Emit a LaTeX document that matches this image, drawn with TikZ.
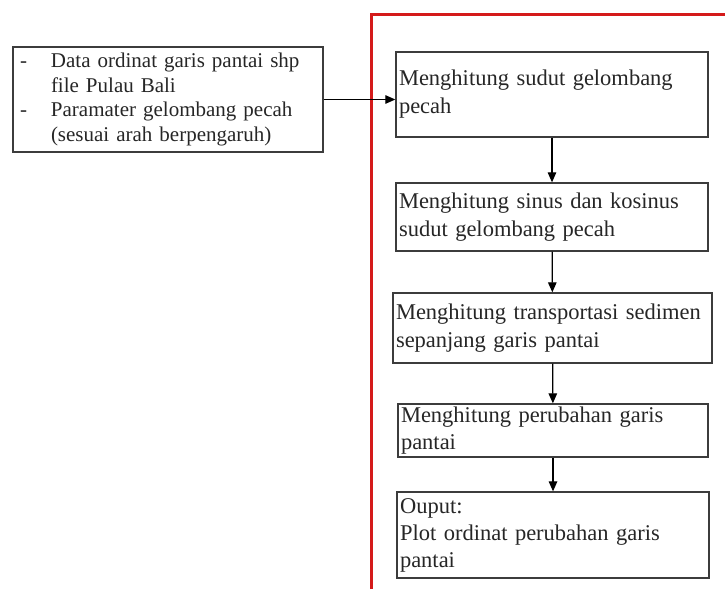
\documentclass[tikz,border=0pt]{standalone}
\usepackage{fontspec}
\setmainfont{Liberation Serif}
\usetikzlibrary{arrows.meta}
\definecolor{frame}{HTML}{D41A1A}
\definecolor{edge}{HTML}{3C3C3C}
\definecolor{ink}{HTML}{262626}
\tikzset{
  stepbox/.style={draw=edge, line width=1.3pt, rectangle, align=left, inner xsep=3pt, inner ysep=0pt, text=ink, font=\fontsize{22.5}{28}\selectfont},
  inbox/.style={draw=edge, line width=1.3pt, rectangle, align=left, inner xsep=7pt, inner ysep=0pt, text=ink, font=\fontsize{21}{24.5}\selectfont},
  flow/.style={draw=black, line width=1.2pt, -{Triangle[length=10pt,width=8.5pt]}},
  redline/.style={draw=frame, line width=3pt},
}
\newcommand{\bul}{\makebox[31pt][l]{-}}
\newcommand{\ind}{\hspace*{31pt}}

\begin{document}
\begin{tikzpicture}[x=1pt,y=-1pt]
  \useasboundingbox (0,0) rectangle (725,589);
  % red frame, cut by the page edge
  \draw[redline] (371,589) -- (371,14) -- (725,14);
  % input
  \node[inbox, text width=296pt, minimum height=105pt] (data) at (168,99.5)
    {\bul Data ordinat garis pantai shp\\\ind file Pulau Bali\\\bul Paramater gelombang pecah\\\ind (sesuai arah berpengaruh)};
  % steps
  \node[stepbox, text width=306pt, minimum height=85pt] (sudut) at (552,94.5)
    {Menghitung sudut gelombang\\pecah};
  \node[stepbox, text width=306pt, minimum height=68pt] (sinus) at (552,217)
    {Menghitung sinus dan kosinus\\sudut gelombang pecah};
  \node[stepbox, text width=313pt, minimum height=70pt] (trans) at (552.5,328)
    {Menghitung transportasi sedimen\\sepanjang garis pantai};
  \node[stepbox, text width=304pt, minimum height=53pt, font=\fontsize{22.5}{27}\selectfont] (ubah) at (553,430.5)
    {Menghitung perubahan garis\\pantai};
  \node[stepbox, text width=306pt, minimum height=86pt, font=\fontsize{22.5}{27}\selectfont] (plot) at (553,535)
    {Ouput:\\Plot ordinat perubahan garis\\pantai};
  \draw[flow] (data.east) -- (data.east -| sudut.west);
  \draw[flow] (sudut) -- (sinus);
  \draw[flow] (sinus) -- (trans);
  \draw[flow] (trans) -- (ubah);
  \draw[flow] (ubah) -- (plot);
\end{tikzpicture}
\end{document}
